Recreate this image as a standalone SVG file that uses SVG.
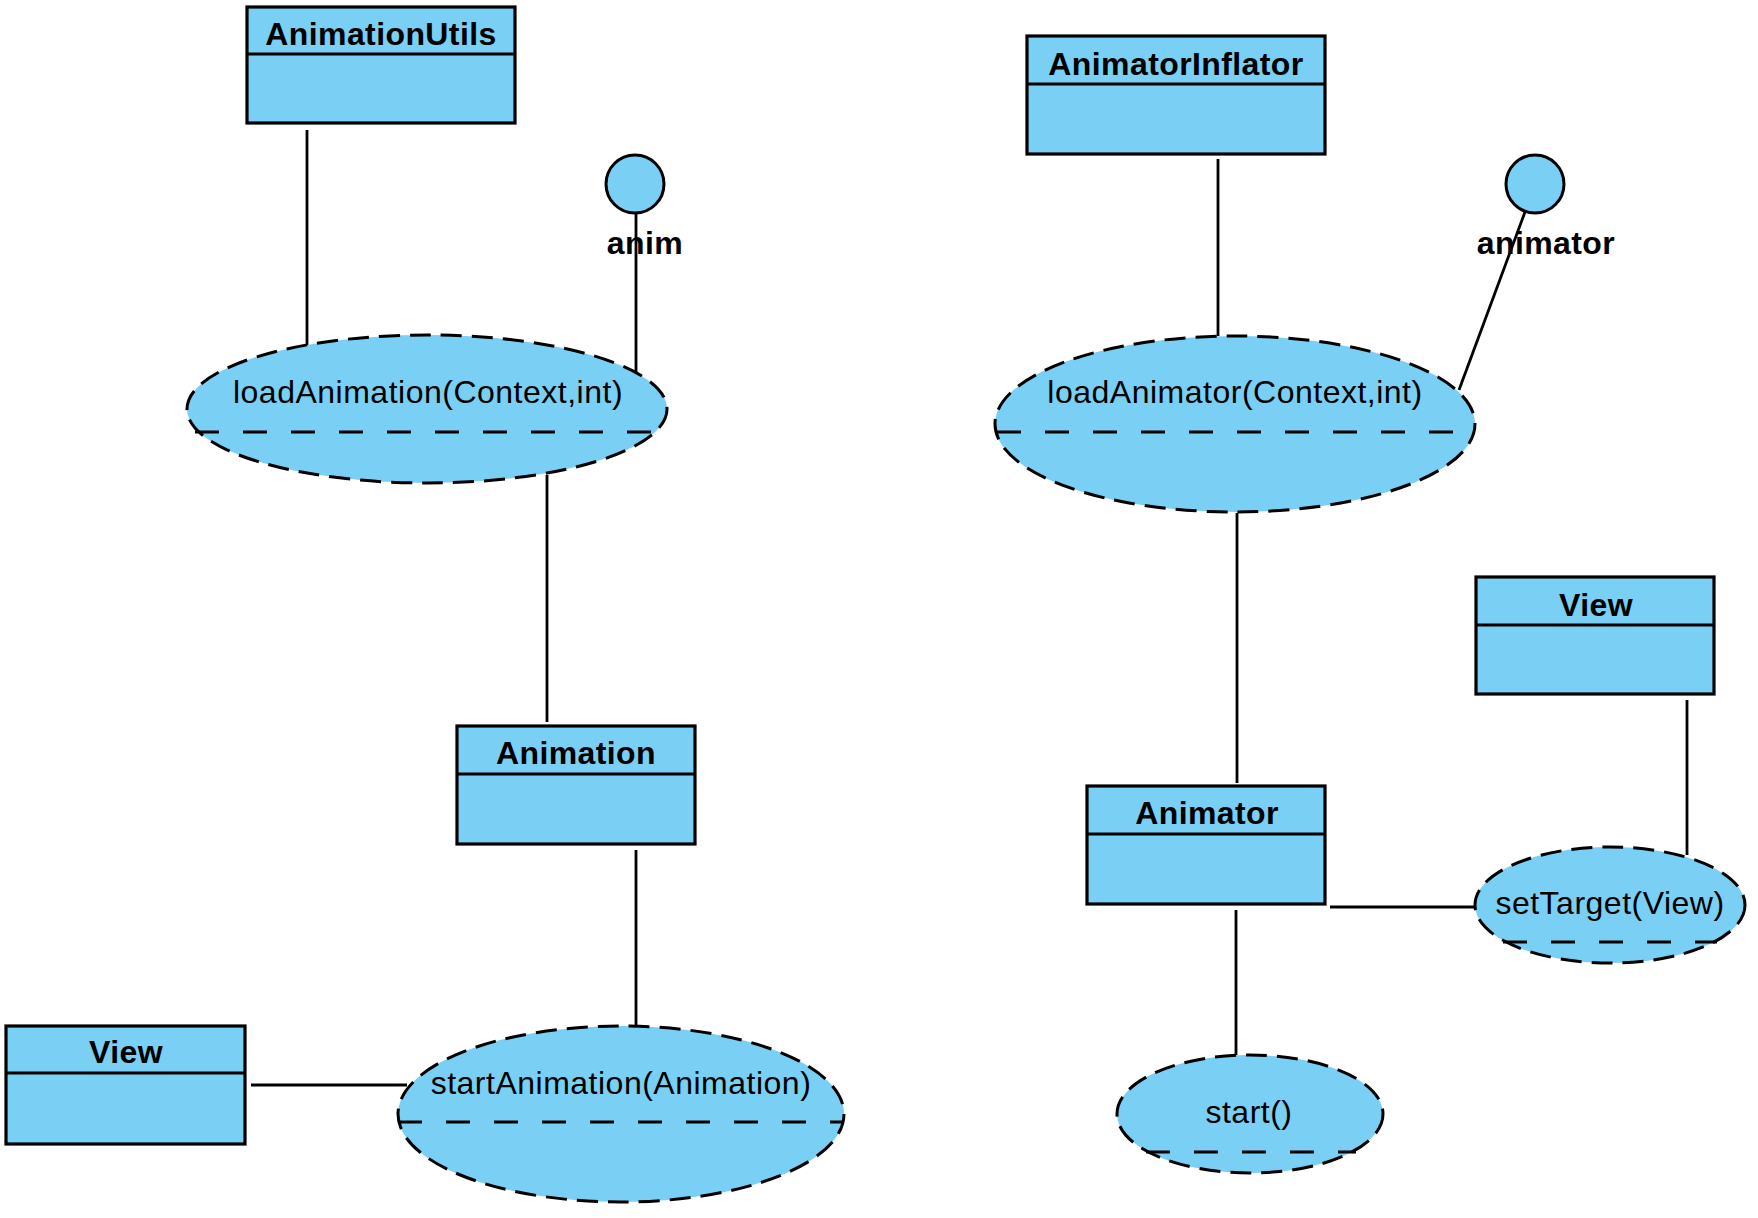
<svg xmlns="http://www.w3.org/2000/svg" width="1758" height="1218" viewBox="0 0 1758 1218">
<style>
  .box { fill: #7ACFF4; stroke: #000; stroke-width: 3.2; }
  .div { stroke: #000; stroke-width: 3.2; fill: none; }
  .uc { fill: #7ACFF4; stroke: #000; stroke-width: 3; stroke-dasharray: 21 10; }
  .sep { stroke: #000; stroke-width: 3; stroke-dasharray: 24 24; fill: none; }
  .actor { fill: #7ACFF4; stroke: #000; stroke-width: 3; }
  .title { font-family: "Liberation Sans", Arial, sans-serif; font-size: 32px; font-weight: bold; letter-spacing: 0.4px; text-anchor: middle; fill: #000; }
  .lbl { font-family: "Liberation Sans", Arial, sans-serif; font-size: 32px; letter-spacing: 0.5px; text-anchor: middle; fill: #000; }
  .conn line { stroke: #000; stroke-width: 2.8; }
</style>
<rect width="1758" height="1218" fill="#fff"/>

<g id="connectors" class="conn">
  <line x1="307" y1="130" x2="307" y2="345"/>
  <line x1="636" y1="212" x2="636" y2="374"/>
  <line x1="547" y1="475" x2="547" y2="722"/>
  <line x1="636" y1="850" x2="636" y2="1027"/>
  <line x1="251" y1="1085" x2="407" y2="1085"/>
  <line x1="1218" y1="159" x2="1218" y2="336"/>
  <line x1="1525" y1="212" x2="1459" y2="390"/>
  <line x1="1237" y1="513" x2="1237" y2="783"/>
  <line x1="1236" y1="910" x2="1236" y2="1055"/>
  <line x1="1330" y1="907" x2="1476" y2="907"/>
  <line x1="1687" y1="700" x2="1687" y2="855"/>
</g>

<g id="AnimationUtils">
  <rect class="box" x="247" y="7" width="268" height="116"/>
  <line class="div" x1="247" y1="54" x2="515" y2="54"/>
  <text class="title" x="381" y="45">AnimationUtils</text>
</g>

<g id="anim">
  <circle class="actor" cx="635" cy="184" r="29"/>
  <text class="title" x="645" y="254">anim</text>
</g>

<g id="loadAnimation">
  <ellipse class="uc" cx="427" cy="409" rx="240" ry="74"/>
  <line class="sep" x1="195" y1="432" x2="657" y2="432"/>
  <text class="lbl" x="428" y="403">loadAnimation(Context,int)</text>
</g>

<g id="Animation">
  <rect class="box" x="457" y="726" width="238" height="118"/>
  <line class="div" x1="457" y1="774" x2="695" y2="774"/>
  <text class="title" x="576" y="764">Animation</text>
</g>

<g id="startAnimation">
  <ellipse class="uc" cx="621" cy="1114" rx="223" ry="88"/>
  <line class="sep" x1="398" y1="1122" x2="844" y2="1122"/>
  <text class="lbl" x="621" y="1094">startAnimation(Animation)</text>
</g>

<g id="ViewLeft">
  <rect class="box" x="6" y="1026" width="239" height="118"/>
  <line class="div" x1="6" y1="1073" x2="245" y2="1073"/>
  <text class="title" x="126" y="1063">View</text>
</g>

<g id="AnimatorInflator">
  <rect class="box" x="1027" y="36" width="298" height="118"/>
  <line class="div" x1="1027" y1="84" x2="1325" y2="84"/>
  <text class="title" x="1176" y="75">AnimatorInflator</text>
</g>

<g id="animator">
  <circle class="actor" cx="1535" cy="184" r="29"/>
  <text class="title" x="1546" y="254">animator</text>
</g>

<g id="loadAnimator">
  <ellipse class="uc" cx="1235" cy="424" rx="240" ry="88"/>
  <line class="sep" x1="997" y1="432" x2="1458" y2="432"/>
  <text class="lbl" x="1235" y="403">loadAnimator(Context,int)</text>
</g>

<g id="Animator">
  <rect class="box" x="1087" y="786" width="238" height="118"/>
  <line class="div" x1="1087" y1="834" x2="1325" y2="834"/>
  <text class="title" x="1207" y="824">Animator</text>
</g>

<g id="ViewRight">
  <rect class="box" x="1476" y="577" width="238" height="117"/>
  <line class="div" x1="1476" y1="625" x2="1714" y2="625"/>
  <text class="title" x="1596" y="616">View</text>
</g>

<g id="setTarget">
  <ellipse class="uc" cx="1610" cy="905" rx="135" ry="58"/>
  <line class="sep" x1="1503" y1="942" x2="1717" y2="942"/>
  <text class="lbl" x="1610" y="914">setTarget(View)</text>
</g>

<g id="start">
  <ellipse class="uc" cx="1250" cy="1114" rx="133" ry="59"/>
  <line class="sep" x1="1146" y1="1152" x2="1356" y2="1152"/>
  <text class="lbl" x="1249" y="1123">start()</text>
</g>
</svg>
